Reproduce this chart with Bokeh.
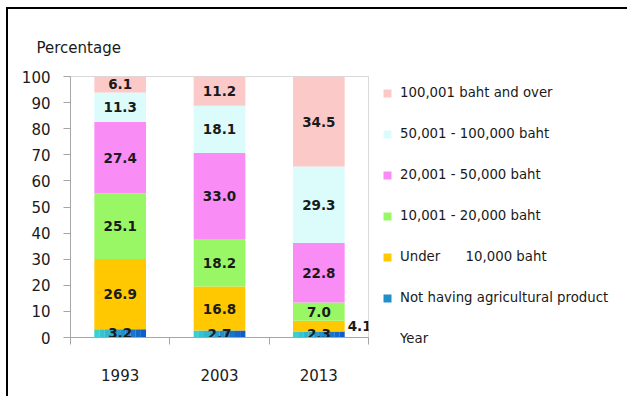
from bokeh.plotting import figure
from bokeh.models import ColumnDataSource, FixedTicker, Legend, LegendItem, Range1d, Title
from bokeh.core.properties import value
from bokeh.embed import file_html
from bokeh.resources import INLINE
from bokeh.transform import dodge

# ---- data ----
years = ["1993", "2003", "2013"]
not_having = [3.2, 2.7, 2.3]
under_10k = [26.9, 16.8, 4.1]
b10k_20k = [25.1, 18.2, 7.0]
b20k_50k = [27.4, 33.0, 22.8]
b50k_100k = [11.3, 18.1, 29.3]
over_100k = [6.1, 11.2, 34.5]
series_names = [
    "Not having agricultural product",
    "Under\u00a0\u00a0\u00a0\u00a0\u00a0 10,000 baht",
    "10,001 - 20,000 baht",
    "20,001 - 50,000 baht",
    "50,001 - 100,000 baht",
    "100,001 baht and over",
]
y_ticks = list(range(0, 101, 10))

series = [not_having, under_10k, b10k_20k, b20k_50k, b50k_100k, over_100k]
colors = [None, "#FFC800", "#99F766", "#FA8CF6", "#DCFCFC", "#FCC9C9"]
grad_start = (0x3A, 0xD0, 0xD0)
grad_end = (0x10, 0x5C, 0xC8)

FONT = "DejaVu Sans"
BAR_W = 0.52

p = figure(width=611, height=396, frame_width=298, frame_height=261,
           x_range=Range1d(0, 3), y_range=Range1d(0, 100),
           output_backend="svg", toolbar_location=None,
           min_border_left=62, min_border_top=67, min_border_right=251, min_border_bottom=59)
p.styles = {"border-left": "2px solid black", "border-top": "2px solid black",
            "margin-left": "6px", "margin-top": "7px"}
p.outline_line_color = "#d9d9d9"
p.xgrid.visible = False
p.ygrid.visible = False

xs = [i + 0.5 for i in range(len(years))]

bottoms = [0.0] * len(years)
legend_renderers = []
label_x, label_y, label_text, label_align, label_xoff = [], [], [], [], []
for si, vals in enumerate(series):
    tops = [b + v for b, v in zip(bottoms, vals)]
    src = ColumnDataSource(dict(x=xs, bottom=bottoms, top=tops))
    if si == 0:
        n = 10
        rs = []
        for k in range(n):
            t = k / (n - 1)
            c = tuple(int(a + (b - a) * t) for a, b in zip(grad_start, grad_end))
            col = "#%02x%02x%02x" % c
            off = -BAR_W / 2 + BAR_W / n * (k + 0.5)
            r = p.vbar(x=dodge("x", off), width=BAR_W / n * 1.02, bottom="bottom", top="top",
                       source=src, fill_color=col, line_color=None)
            rs.append(r)
        legend_renderers.append(rs[n // 2])
    else:
        r = p.vbar(x="x", width=BAR_W, bottom="bottom", top="top", source=src,
                   fill_color=colors[si], line_color=None)
        legend_renderers.append(r)
    for xi, b, v in zip(xs, bottoms, vals):
        label_y.append(b + v / 2)
        label_text.append("%.1f" % v)
        if si > 0 and v < 5:
            label_x.append(xi + BAR_W / 2)
            label_align.append("left")
            label_xoff.append(3)
        else:
            label_x.append(xi)
            label_align.append("center")
            label_xoff.append(0)
    bottoms = tops

lsrc = ColumnDataSource(dict(x=label_x, y=label_y, text=label_text, align=label_align, xoff=label_xoff))
p.text(x="x", y="y", text="text", source=lsrc, text_align="align", x_offset="xoff",
       text_baseline="middle", text_font=value(FONT), text_font_size="13.5px",
       text_font_style="bold", text_color="#1a1a1a")

# axes
p.yaxis.ticker = FixedTicker(ticks=y_ticks)
p.yaxis.major_tick_out = 7
p.yaxis.major_tick_in = 0
p.yaxis.minor_tick_line_color = None
p.yaxis.axis_line_color = "#a6a6a6"
p.yaxis.major_tick_line_color = "#a6a6a6"
p.yaxis.major_label_text_font = FONT
p.yaxis.major_label_text_font_size = "15px"
p.yaxis.major_label_text_color = "#1a1a1a"
p.yaxis.major_label_standoff = 13

p.xaxis.ticker = FixedTicker(ticks=xs, minor_ticks=[0, 1, 2, 3])
p.xaxis.major_label_overrides = {x: y for x, y in zip(xs, years)}
p.xaxis.major_tick_out = 0
p.xaxis.major_tick_in = 0
p.xaxis.minor_tick_out = 7
p.xaxis.minor_tick_in = 0
p.xaxis.minor_tick_line_color = "#a6a6a6"
p.xaxis.axis_line_color = "#a6a6a6"
p.xaxis.major_label_text_font = FONT
p.xaxis.major_label_text_font_size = "15px"
p.xaxis.major_label_text_color = "#1a1a1a"
p.xaxis.major_label_standoff = 24

p.add_layout(Title(text="Percentage", align="left", offset=-34, standoff=39,
                   text_font=FONT, text_font_size="15px", text_font_style="normal",
                   text_color="#1a1a1a"), "above")

# invisible renderer for the "Year" caption placed in the legend column
blank = p.vbar(x=[], top=[], width=0.1, fill_alpha=0, line_alpha=0)

items = [LegendItem(label=name, renderers=[r]) for name, r in zip(series_names, legend_renderers)]
items.reverse()
items.append(LegendItem(label="Year", renderers=[blank]))
legend = Legend(items=items, location=(14, -12), glyph_width=10, glyph_height=10,
                label_height=21, spacing=20, padding=0, margin=0, label_standoff=8,
                border_line_alpha=0, background_fill_alpha=0,
                label_text_font=FONT, label_text_font_size="13.3px", label_text_color="#1a1a1a")
p.add_layout(legend, "right")

open("out.html", "w").write(file_html(p, INLINE))
